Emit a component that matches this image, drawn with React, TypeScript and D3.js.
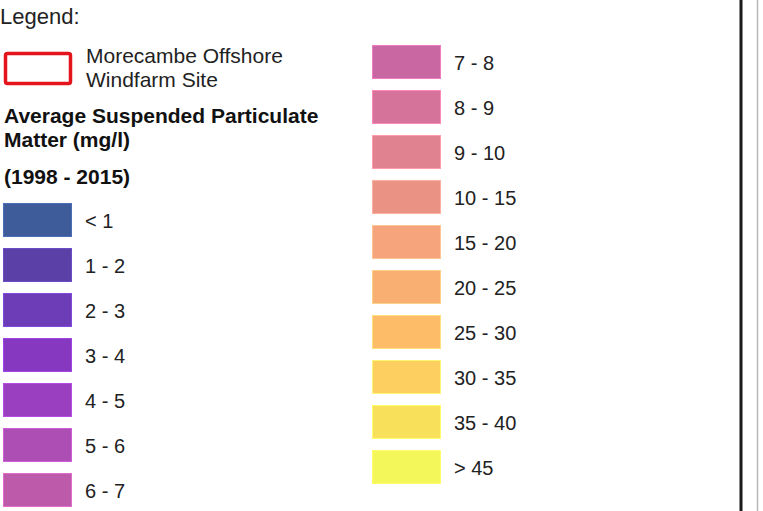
import { useEffect, useRef } from 'react';
import * as d3 from 'd3';

const leftLabels = ['< 1', '1 - 2', '2 - 3', '3 - 4', '4 - 5', '5 - 6', '6 - 7'];
const leftColors = ['#3e5c99', '#5b40a8', '#6d3db8', '#8639c0', '#9a3fbf', '#ad4eb4', '#bd5aa9'];
const rightLabels = ['7 - 8', '8 - 9', '9 - 10', '10 - 15', '15 - 20', '20 - 25', '25 - 30', '30 - 35', '35 - 40', '> 45'];
const rightColors = ['#c967a2', '#d6739a', '#e08290', '#ea9385', '#f5a47c', '#f9ae72', '#fdbc67', '#fdcf61', '#f9e05a', '#f3f75a'];
const titleLines = ['Average Suspended Particulate', 'Matter (mg/l)'];
const siteLines = ['Morecambe Offshore', 'Windfarm Site'];

const W = 763;
const H = 511;
const FONT = '"Liberation Sans", Arial, sans-serif';

export default function App() {
  const ref = useRef<SVGSVGElement>(null);

  useEffect(() => {
    const svg = d3.select(ref.current);
    svg.selectAll('*').remove();

    svg.append('rect').attr('width', W).attr('height', H).attr('fill', '#fff');

    svg.append('text')
      .attr('x', 0).attr('y', 24)
      .attr('font-size', 22).attr('fill', '#222')
      .text('Legend:');

    // site outline
    svg.append('rect')
      .attr('x', 5.5).attr('y', 53.5).attr('width', 65).attr('height', 30)
      .attr('rx', 2)
      .attr('fill', '#fff').attr('stroke', '#e3141b').attr('stroke-width', 3.5);

    svg.append('g').selectAll('text').data(siteLines).join('text')
      .attr('x', 86).attr('y', (_, i) => 63 + i * 24)
      .attr('font-size', 21).attr('fill', '#222')
      .text(d => d);

    svg.append('g').selectAll('text').data(titleLines).join('text')
      .attr('x', 4).attr('y', (_, i) => 122.5 + i * 24)
      .attr('font-size', 21).attr('font-weight', 'bold').attr('fill', '#111')
      .text(d => d);

    svg.append('text')
      .attr('x', 4).attr('y', 184)
      .attr('font-size', 21).attr('font-weight', 'bold').attr('fill', '#111')
      .text('(1998 - 2015)');

    const row = d3.scaleLinear().domain([0, 1]).range([0, 45]);

    const drawColumn = (labels: string[], colors: string[], x0: number, y0: number) => {
      const g = svg.append('g').attr('transform', `translate(${x0},${y0})`);
      const items = g.selectAll('g').data(labels).join('g')
        .attr('transform', (_, i) => `translate(0,${row(i)})`);
      items.append('rect')
        .attr('x', 0.5).attr('y', 0.5).attr('width', 68).attr('height', 33)
        .attr('fill', (_, i) => colors[i])
        .attr('stroke', (_, i) => d3.color(colors[i])!.brighter(0.5).formatHex())
        .attr('stroke-width', 1);
      items.append('text')
        .attr('x', 82).attr('y', 24.5)
        .attr('font-size', 20).attr('fill', '#222')
        .text(d => d);
    };

    drawColumn(leftLabels, leftColors, 3, 203);
    drawColumn(rightLabels, rightColors, 372, 45);

    // frame lines on the right
    svg.append('line')
      .attr('x1', 741).attr('x2', 741).attr('y1', 0).attr('y2', H)
      .attr('stroke', '#1a1a1a').attr('stroke-width', 3);
    svg.append('line')
      .attr('x1', 757.5).attr('x2', 757.5).attr('y1', 0).attr('y2', H)
      .attr('stroke', '#b8b8b8').attr('stroke-width', 1.5);
  }, []);

  return (
    <svg
      ref={ref}
      width={W}
      height={H}
      style={{ position: 'absolute', left: 0, top: 0, fontFamily: FONT }}
    />
  );
}
